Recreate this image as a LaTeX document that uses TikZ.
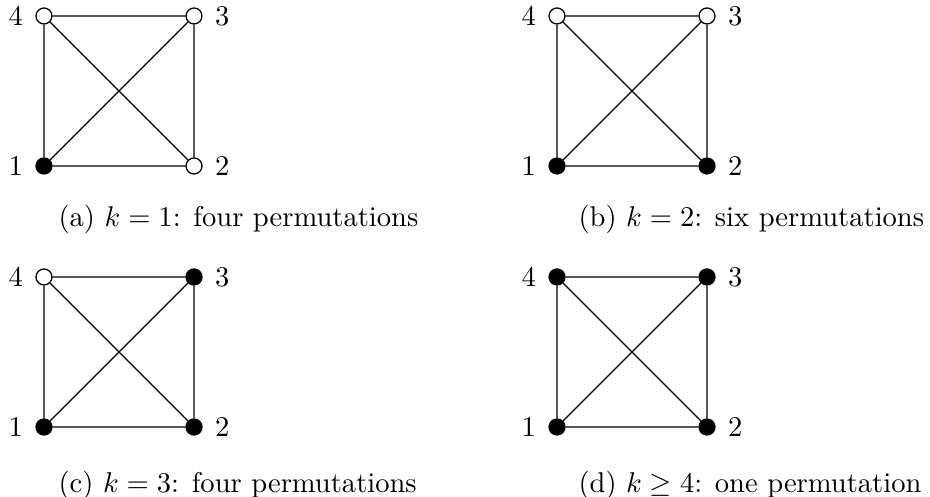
\documentclass[tikz,border=0pt]{standalone}
\usetikzlibrary{positioning}
\begin{document}
\begin{tikzpicture}[x=0.35pt, y=-0.35pt,
  vtx/.style={circle, draw, line width=0.45pt, minimum size=5.6pt, inner sep=0pt},
  capt/.style={anchor=base west, inner sep=0pt},
  label distance=0.8pt
]
  \useasboundingbox (0,0) rectangle (930,497);
  \foreach \p/\x/\y/\fa/\fb/\fc/\fd/\cx/\cy/\txt in {
    a/44/16/black/white/white/white/58/227/{(a) $k=1$: four permutations},
    b/557/16/black/black/white/white/578/227/{(b) $k=2$: six permutations},
    c/44/277/black/black/black/white/58/493/{(c) $k=3$: four permutations},
    d/557/277/black/black/black/black/578/493/{(d) $k\geq 4$: one permutation}}
  {
    % vertices of the square
    \node[vtx, fill=\fa, label=left:1]  (\p1) at (\x, \y+150) {};
    \node[vtx, fill=\fb, label=right:2] (\p2) at (\x+150, \y+150) {};
    \node[vtx, fill=\fc, label=right:3] (\p3) at (\x+150, \y) {};
    \node[vtx, fill=\fd, label=left:4]  (\p4) at (\x, \y) {};
    % all six edges
    \draw[line width=0.45pt] (\p1) -- (\p2) -- (\p3) -- (\p4) -- (\p1) -- (\p3);
    \draw[line width=0.45pt] (\p2) -- (\p4);
    \node[capt] (cap\p) at (\cx, \cy) {\txt};
  }
\end{tikzpicture}
\end{document}
